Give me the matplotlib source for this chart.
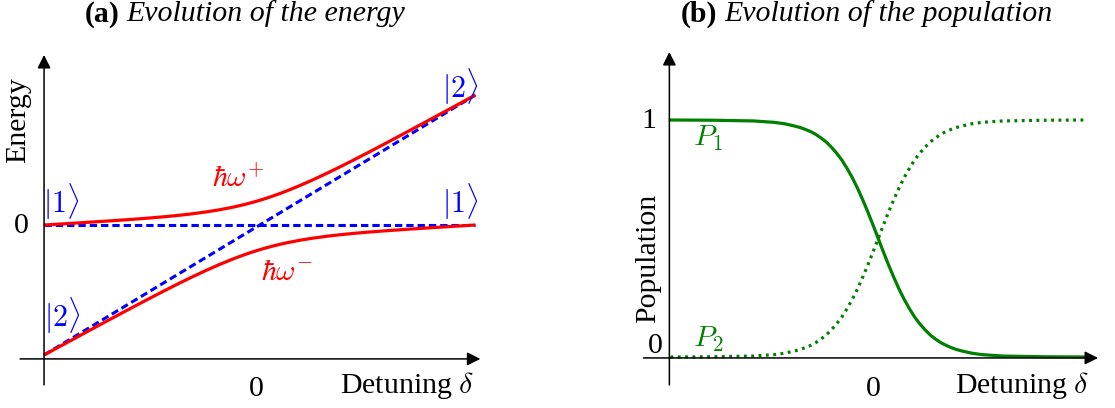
import matplotlib
matplotlib.use("Agg")
import matplotlib.pyplot as plt

plt.rcParams['font.family'] = ['Liberation Serif', 'DejaVu Serif']
plt.rcParams['mathtext.fontset'] = 'cm'

# (a) energies vs detuning
delta_e = [-1.0, -0.9375, -0.875, -0.8125, -0.75, -0.6875, -0.625, -0.5625,
           -0.5, -0.4375, -0.375, -0.3125, -0.25, -0.1875, -0.125,
           -0.09375, -0.0625, -0.03125, 0.0, 0.03125, 0.0625, 0.09375,
           0.125, 0.1875, 0.25, 0.3125, 0.375, 0.4375, 0.5,
           0.5625, 0.625, 0.6875, 0.75, 0.8125, 0.875, 0.9375, 1.0]
e_plus = [0.0, 0.0063, 0.0127, 0.0191, 0.0257, 0.0325, 0.0396, 0.0471,
          0.0553, 0.0643, 0.0745, 0.0863, 0.1002, 0.1169, 0.137,
          0.1485, 0.1612, 0.175, 0.19, 0.2063, 0.2237, 0.2423,
          0.262, 0.3044, 0.3502, 0.3988, 0.4495, 0.5018, 0.5553,
          0.6096, 0.6646, 0.72, 0.7757, 0.8316, 0.8877, 0.9438, 1.0]
e_minus = [-1.0, -0.9438, -0.8877, -0.8316, -0.7757, -0.72, -0.6646, -0.6096,
           -0.5553, -0.5018, -0.4495, -0.3988, -0.3502, -0.3044, -0.262,
           -0.2423, -0.2237, -0.2063, -0.19, -0.175, -0.1612, -0.1485,
           -0.137, -0.1169, -0.1002, -0.0863, -0.0745, -0.0643, -0.0553,
           -0.0471, -0.0396, -0.0325, -0.0257, -0.0191, -0.0127, -0.0063, 0.0]
state1 = [0.0, 0.0]          # |1> stays at zero
state2 = [-1.0, 1.0]         # |2> follows delta
bare_delta = [-1.0, 1.0]

# (b) populations vs detuning
delta_p = [-1.0, -0.8, -0.6, -0.5, -0.45, -0.4, -0.375, -0.35, -0.325, -0.3,
           -0.275, -0.25, -0.225, -0.2, -0.175, -0.15, -0.125, -0.1, -0.075, -0.05,
           -0.025, 0.0, 0.025, 0.05, 0.075, 0.1, 0.125, 0.15, 0.175, 0.2,
           0.225, 0.25, 0.275, 0.3, 0.325, 0.35, 0.375, 0.4, 0.45, 0.5,
           0.6, 0.8, 1.0]
p1 = [1.0, 0.999, 0.996, 0.99, 0.984, 0.974, 0.968, 0.96, 0.951, 0.939,
      0.924, 0.907, 0.885, 0.86, 0.831, 0.796, 0.757, 0.713, 0.664, 0.612,
      0.557, 0.5, 0.443, 0.388, 0.336, 0.287, 0.243, 0.204, 0.169, 0.14,
      0.115, 0.093, 0.076, 0.061, 0.05, 0.04, 0.032, 0.026, 0.016, 0.01,
      0.004, 0.001, 0.0]
p2 = [0.0, 0.001, 0.004, 0.01, 0.016, 0.026, 0.032, 0.04, 0.049, 0.061,
      0.076, 0.093, 0.115, 0.14, 0.169, 0.204, 0.243, 0.287, 0.336, 0.388,
      0.443, 0.5, 0.557, 0.612, 0.664, 0.713, 0.757, 0.796, 0.831, 0.86,
      0.885, 0.907, 0.924, 0.939, 0.951, 0.96, 0.968, 0.974, 0.984, 0.99,
      0.996, 0.999, 1.0]

RED = '#ff0000'
BLUE = '#0000ff'
GREEN = '#008000'
FS = 21.5

fig = plt.figure(figsize=(11.15, 4.08), dpi=100)


def arrow(ax, start, tip):
    ax.annotate('', xy=tip, xytext=start,
                arrowprops=dict(arrowstyle='-|>', lw=1.1, color='black',
                                mutation_scale=20, shrinkA=0, shrinkB=0))


# ---- (a) energy levels ----
ax = fig.add_axes([0, 0, 0.5, 1])
ax.set_xlim(-1.2042, 1.3805)
ax.set_ylim(-1.4077, 1.7308)
ax.set_axis_off()

arrow(ax, (-1.111, -1.03), (1.023, -1.03))
arrow(ax, (-1.0, -1.23), (-1.0, 1.308))

ax.plot(bare_delta, state1, color=BLUE, lw=2.2, dashes=(2.4, 1.3))
ax.plot(bare_delta, state2, color=BLUE, lw=2.2, dashes=(2.4, 1.3))
ax.plot(delta_e, e_plus, color=RED, lw=2.3, solid_capstyle='butt')
ax.plot(delta_e, e_minus, color=RED, lw=2.3, solid_capstyle='butt')

ax.text(-0.921, 0.177, r'$|1\rangle$', color=BLUE, fontsize=FS, ha='center', va='center')
ax.text(0.930, 0.177, r'$|1\rangle$', color=BLUE, fontsize=FS, ha='center', va='center')
ax.text(-0.916, -0.70, r'$|2\rangle$', color=BLUE, fontsize=FS, ha='center', va='center')
ax.text(0.930, 1.069, r'$|2\rangle$', color=BLUE, fontsize=FS, ha='center', va='center')
ax.text(-0.10, 0.36, r'$\hbar\omega^{+}$', color=RED, fontsize=FS, ha='center', va='center')
ax.text(0.128, -0.37, r'$\hbar\omega^{-}$', color=RED, fontsize=FS, ha='center', va='center')

ax.text(-1.107, -0.008, '0', fontsize=FS, ha='center', va='center')
ax.text(-0.016, -1.26, '0', fontsize=FS, ha='center', va='center')
ax.text(0.684, -1.238, r'Detuning $\delta$', fontsize=FS, ha='center', va='center')
ax.text(-1.121, 0.808, 'Energy', fontsize=FS, ha='center', va='center', rotation=90)

# ---- (b) populations ----
bx = fig.add_axes([0.5, 0, 0.5, 1])
bx.set_xlim(-1.5433, 1.1394)
bx.set_ylim(-0.2152, 1.5063)
bx.set_axis_off()

arrow(bx, (-1.13, -0.004), (1.058, -0.004))
arrow(bx, (-1.005, -0.118), (-1.005, 1.287))

bx.plot(delta_p, p2, color=GREEN, lw=2.3, dashes=(0.9, 1.4))
bx.plot(delta_p, p1, color=GREEN, lw=2.3)

bx.text(-1.106, 0.996, '1', fontsize=FS, ha='center', va='center')
bx.text(-1.072, 0.046, '0', fontsize=FS, ha='center', va='center')
bx.text(-0.024, -0.135, '0', fontsize=FS, ha='center', va='center')
bx.text(0.69, -0.122, r'Detuning $\delta$', fontsize=FS, ha='center', va='center')
bx.text(-1.106, 0.418, 'Population', fontsize=FS, ha='center', va='center', rotation=90)
bx.text(-0.817, 0.924, r'$P_1$', color=GREEN, fontsize=FS, ha='center', va='center')
bx.text(-0.817, 0.072, r'$P_2$', color=GREEN, fontsize=FS, ha='center', va='center')

# panel titles: bold tag followed by italic caption
fig.text(120 / 1115, 1 - 14 / 408, '(a)', fontsize=FS, fontweight='bold', ha='right', va='center')
fig.text(126 / 1115, 1 - 14 / 408, 'Evolution of the energy', fontsize=FS, style='italic',
         ha='left', va='center')
fig.text(717 / 1115, 1 - 14 / 408, '(b)', fontsize=FS, fontweight='bold', ha='right', va='center')
fig.text(724 / 1115, 1 - 14 / 408, 'Evolution of the population', fontsize=FS, style='italic',
         ha='left', va='center')

fig.savefig('out.png', dpi=100)
